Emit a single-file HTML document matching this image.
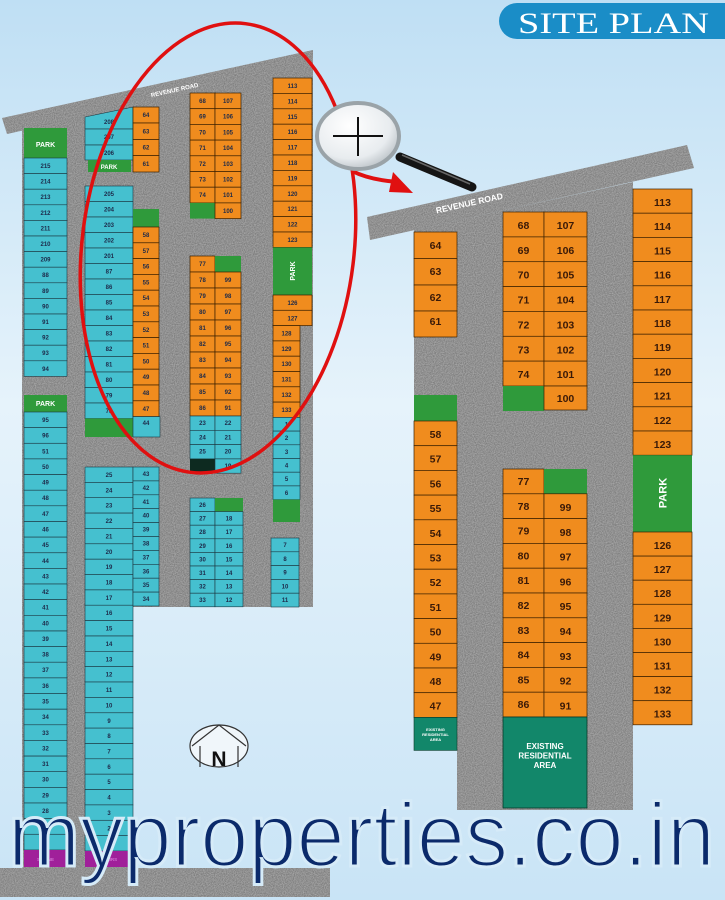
<!DOCTYPE html>
<html><head><meta charset="utf-8"><style>
html,body{margin:0;padding:0;width:725px;height:900px;overflow:hidden}
svg{display:block}
.c{fill:#45c0cf;stroke:#1c3640;stroke-width:.6}
.o{fill:#f08c1e;stroke:#3a2000;stroke-width:.7}
.g{fill:#2f9a3b}
.t{font-family:"Liberation Sans",sans-serif;font-weight:bold;font-size:6px;fill:#1d2a4a;text-anchor:middle}
.T{font-family:"Liberation Sans",sans-serif;font-weight:bold;font-size:10.5px;fill:#3a1a08;text-anchor:middle}
.w{font-family:"Liberation Sans",sans-serif;font-weight:bold;fill:#fff;text-anchor:middle}
</style></head><body>
<svg width="725" height="900" viewBox="0 0 725 900" xmlns="http://www.w3.org/2000/svg">
<defs>
<linearGradient id="bg" x1="0" y1="0" x2="0" y2="1">
<stop offset="0" stop-color="#bfdff4"/><stop offset=".45" stop-color="#e6f3fb"/><stop offset="1" stop-color="#c9e4f6"/>
</linearGradient>
<radialGradient id="lens" cx=".4" cy=".35" r=".7"><stop offset="0" stop-color="#fff"/><stop offset=".7" stop-color="#e8ecef"/><stop offset="1" stop-color="#b8bfc4"/></radialGradient>
<filter id="nz" x="0" y="0" width="100%" height="100%"><feTurbulence type="fractalNoise" baseFrequency=".9" numOctaves="2" result="n"/><feColorMatrix type="matrix" values="0 0 0 0 .5  0 0 0 0 .5  0 0 0 0 .5  1.2 0 0 0 -.35" in="n" result="m"/><feComposite in="m" in2="SourceGraphic" operator="in" result="c"/><feMerge><feMergeNode in="SourceGraphic"/><feMergeNode in="c"/></feMerge></filter>
</defs>
<rect width="725" height="900" fill="url(#bg)"/>

<!-- LEFT gray -->
<g fill="#7f7f7f" filter="url(#nz)">
<polygon points="22,128 313,60 313,607 133,607 133,870 22,870"/>
<polygon points="2,118 313,50 313,66 7,134"/>
<rect x="0" y="868" width="330" height="29"/>
</g>
<text x="175" y="92" transform="rotate(-12.5 175 92)" class="w" style="font-size:6px">REVENUE ROAD</text>

<!-- Col A -->
<rect x="24" y="128" width="43" height="30" class="g"/><text x="45.5" y="147" class="w" style="font-size:7px">PARK</text>
<g>
<rect x="24" y="158" width="43" height="15.6" class="c"/><text x="45.5" y="168" class="t">215</text>
<rect x="24" y="173.6" width="43" height="15.6" class="c"/><text x="45.5" y="183.6" class="t">214</text>
<rect x="24" y="189.2" width="43" height="15.6" class="c"/><text x="45.5" y="199.2" class="t">213</text>
<rect x="24" y="204.8" width="43" height="15.6" class="c"/><text x="45.5" y="214.8" class="t">212</text>
<rect x="24" y="220.4" width="43" height="15.6" class="c"/><text x="45.5" y="230.4" class="t">211</text>
<rect x="24" y="236" width="43" height="15.6" class="c"/><text x="45.5" y="246" class="t">210</text>
<rect x="24" y="251.6" width="43" height="15.6" class="c"/><text x="45.5" y="261.6" class="t">209</text>
<rect x="24" y="267.2" width="43" height="15.6" class="c"/><text x="45.5" y="277.2" class="t">88</text>
<rect x="24" y="282.8" width="43" height="15.6" class="c"/><text x="45.5" y="292.8" class="t">89</text>
<rect x="24" y="298.4" width="43" height="15.6" class="c"/><text x="45.5" y="308.4" class="t">90</text>
<rect x="24" y="314" width="43" height="15.6" class="c"/><text x="45.5" y="324" class="t">91</text>
<rect x="24" y="329.6" width="43" height="15.6" class="c"/><text x="45.5" y="339.6" class="t">92</text>
<rect x="24" y="345.2" width="43" height="15.6" class="c"/><text x="45.5" y="355.2" class="t">93</text>
<rect x="24" y="360.8" width="43" height="15.6" class="c"/><text x="45.5" y="370.8" class="t">94</text>
</g>
<rect x="24" y="395" width="43" height="17" class="g"/><text x="45.5" y="406" class="w" style="font-size:7px">PARK</text>
<g>
<rect x="24" y="412" width="43" height="15.64" class="c"/><text x="45.5" y="422" class="t">95</text>
<rect x="24" y="427.6" width="43" height="15.64" class="c"/><text x="45.5" y="437.6" class="t">96</text>
<rect x="24" y="443.3" width="43" height="15.64" class="c"/><text x="45.5" y="453.3" class="t">51</text>
<rect x="24" y="458.9" width="43" height="15.64" class="c"/><text x="45.5" y="468.9" class="t">50</text>
<rect x="24" y="474.6" width="43" height="15.64" class="c"/><text x="45.5" y="484.6" class="t">49</text>
<rect x="24" y="490.2" width="43" height="15.64" class="c"/><text x="45.5" y="500.2" class="t">48</text>
<rect x="24" y="505.8" width="43" height="15.64" class="c"/><text x="45.5" y="515.8" class="t">47</text>
<rect x="24" y="521.5" width="43" height="15.64" class="c"/><text x="45.5" y="531.5" class="t">46</text>
<rect x="24" y="537.1" width="43" height="15.64" class="c"/><text x="45.5" y="547.1" class="t">45</text>
<rect x="24" y="552.8" width="43" height="15.64" class="c"/><text x="45.5" y="562.8" class="t">44</text>
<rect x="24" y="568.4" width="43" height="15.64" class="c"/><text x="45.5" y="578.4" class="t">43</text>
<rect x="24" y="584" width="43" height="15.64" class="c"/><text x="45.5" y="594" class="t">42</text>
<rect x="24" y="599.7" width="43" height="15.64" class="c"/><text x="45.5" y="609.7" class="t">41</text>
<rect x="24" y="615.3" width="43" height="15.64" class="c"/><text x="45.5" y="625.3" class="t">40</text>
<rect x="24" y="631" width="43" height="15.64" class="c"/><text x="45.5" y="641" class="t">39</text>
<rect x="24" y="646.6" width="43" height="15.64" class="c"/><text x="45.5" y="656.6" class="t">38</text>
<rect x="24" y="662.2" width="43" height="15.64" class="c"/><text x="45.5" y="672.2" class="t">37</text>
<rect x="24" y="677.9" width="43" height="15.64" class="c"/><text x="45.5" y="687.9" class="t">36</text>
<rect x="24" y="693.5" width="43" height="15.64" class="c"/><text x="45.5" y="703.5" class="t">35</text>
<rect x="24" y="709.2" width="43" height="15.64" class="c"/><text x="45.5" y="719.2" class="t">34</text>
<rect x="24" y="724.8" width="43" height="15.64" class="c"/><text x="45.5" y="734.8" class="t">33</text>
<rect x="24" y="740.4" width="43" height="15.64" class="c"/><text x="45.5" y="750.4" class="t">32</text>
<rect x="24" y="756.1" width="43" height="15.64" class="c"/><text x="45.5" y="766.1" class="t">31</text>
<rect x="24" y="771.7" width="43" height="15.64" class="c"/><text x="45.5" y="781.7" class="t">30</text>
<rect x="24" y="787.4" width="43" height="15.64" class="c"/><text x="45.5" y="797.4" class="t">29</text>
<rect x="24" y="803" width="43" height="15.64" class="c"/><text x="45.5" y="813" class="t">28</text>
<rect x="24" y="818.6" width="43" height="15.64" class="c"/><text x="45.5" y="828.6" class="t">27</text>
<rect x="24" y="834.3" width="43" height="15.64" class="c"/><text x="45.5" y="844.3" class="t">26</text>
</g>
<rect x="24" y="850" width="43" height="17" fill="#a0209a"/><text x="45.5" y="861" class="t" style="font-size:4.5px;fill:#d070d0">SHRINE</text>

<!-- Col B top -->
<polygon points="85,117 133,107 133,129 85,129" class="c"/><text x="109" y="124" class="t">208</text>
<rect x="85" y="129" width="48" height="16" class="c"/><text x="109" y="139" class="t">207</text>
<rect x="85" y="145" width="48" height="15" class="c"/><text x="109" y="155" class="t">206</text>
<rect x="88" y="160" width="43" height="12" class="g"/><text x="109" y="169" class="w" style="font-size:6px">PARK</text>
<rect x="133" y="107" width="26" height="16" class="o"/><text x="146" y="117" class="t">64</text>
<rect x="133" y="123" width="26" height="16.5" class="o"/><text x="146" y="133.5" class="t">63</text>
<rect x="133" y="139.5" width="26" height="16" class="o"/><text x="146" y="149.5" class="t">62</text>
<rect x="133" y="155.5" width="26" height="16.5" class="o"/><text x="146" y="166" class="t">61</text>

<!-- Col B mid -->
<g>
<rect x="85" y="186" width="48" height="15.5" class="c"/><text x="109" y="196" class="t">205</text>
<rect x="85" y="201.5" width="48" height="15.5" class="c"/><text x="109" y="211.5" class="t">204</text>
<rect x="85" y="217" width="48" height="15.5" class="c"/><text x="109" y="227" class="t">203</text>
<rect x="85" y="232.5" width="48" height="15.5" class="c"/><text x="109" y="242.5" class="t">202</text>
<rect x="85" y="248" width="48" height="15.5" class="c"/><text x="109" y="258" class="t">201</text>
<rect x="85" y="263.5" width="48" height="15.5" class="c"/><text x="109" y="273.5" class="t">87</text>
<rect x="85" y="279" width="48" height="15.5" class="c"/><text x="109" y="289" class="t">86</text>
<rect x="85" y="294.5" width="48" height="15.5" class="c"/><text x="109" y="304.5" class="t">85</text>
<rect x="85" y="310" width="48" height="15.5" class="c"/><text x="109" y="320" class="t">84</text>
<rect x="85" y="325.5" width="48" height="15.5" class="c"/><text x="109" y="335.5" class="t">83</text>
<rect x="85" y="341" width="48" height="15.5" class="c"/><text x="109" y="351" class="t">82</text>
<rect x="85" y="356.5" width="48" height="15.5" class="c"/><text x="109" y="366.5" class="t">81</text>
<rect x="85" y="372" width="48" height="15.5" class="c"/><text x="109" y="382" class="t">80</text>
<rect x="85" y="387.5" width="48" height="15.5" class="c"/><text x="109" y="397.5" class="t">79</text>
<rect x="85" y="403" width="48" height="15.5" class="c"/><text x="109" y="413" class="t">78</text>
</g>
<rect x="85" y="418.5" width="48" height="18.5" class="g"/>
<rect x="133" y="209" width="26" height="18" class="g"/>
<g>
<rect x="133" y="227" width="26" height="15.8" class="o"/><text x="146" y="237" class="t">58</text>
<rect x="133" y="242.8" width="26" height="15.8" class="o"/><text x="146" y="252.8" class="t">57</text>
<rect x="133" y="258.6" width="26" height="15.8" class="o"/><text x="146" y="268.6" class="t">56</text>
<rect x="133" y="274.4" width="26" height="15.8" class="o"/><text x="146" y="284.4" class="t">55</text>
<rect x="133" y="290.2" width="26" height="15.8" class="o"/><text x="146" y="300.2" class="t">54</text>
<rect x="133" y="306" width="26" height="15.8" class="o"/><text x="146" y="316" class="t">53</text>
<rect x="133" y="321.8" width="26" height="15.8" class="o"/><text x="146" y="331.8" class="t">52</text>
<rect x="133" y="337.6" width="26" height="15.8" class="o"/><text x="146" y="347.6" class="t">51</text>
<rect x="133" y="353.4" width="26" height="15.8" class="o"/><text x="146" y="363.4" class="t">50</text>
<rect x="133" y="369.2" width="26" height="15.8" class="o"/><text x="146" y="379.2" class="t">49</text>
<rect x="133" y="385" width="26" height="15.8" class="o"/><text x="146" y="395" class="t">48</text>
<rect x="133" y="400.8" width="26" height="15.8" class="o"/><text x="146" y="410.8" class="t">47</text>
</g>
<rect x="133" y="416.6" width="27" height="20.4" class="c"/><text x="146" y="425" class="t">44</text>

<!-- Col B lower -->
<g>
<rect x="85" y="467" width="48" height="15.36" class="c"/><text x="109" y="477" class="t">25</text>
<rect x="85" y="482.4" width="48" height="15.36" class="c"/><text x="109" y="492.4" class="t">24</text>
<rect x="85" y="497.7" width="48" height="15.36" class="c"/><text x="109" y="507.7" class="t">23</text>
<rect x="85" y="513.1" width="48" height="15.36" class="c"/><text x="109" y="523.1" class="t">22</text>
<rect x="85" y="528.4" width="48" height="15.36" class="c"/><text x="109" y="538.4" class="t">21</text>
<rect x="85" y="543.8" width="48" height="15.36" class="c"/><text x="109" y="553.8" class="t">20</text>
<rect x="85" y="559.2" width="48" height="15.36" class="c"/><text x="109" y="569.2" class="t">19</text>
<rect x="85" y="574.5" width="48" height="15.36" class="c"/><text x="109" y="584.5" class="t">18</text>
<rect x="85" y="589.9" width="48" height="15.36" class="c"/><text x="109" y="599.9" class="t">17</text>
<rect x="85" y="605.2" width="48" height="15.36" class="c"/><text x="109" y="615.2" class="t">16</text>
<rect x="85" y="620.6" width="48" height="15.36" class="c"/><text x="109" y="630.6" class="t">15</text>
<rect x="85" y="636" width="48" height="15.36" class="c"/><text x="109" y="646" class="t">14</text>
<rect x="85" y="651.3" width="48" height="15.36" class="c"/><text x="109" y="661.3" class="t">13</text>
<rect x="85" y="666.7" width="48" height="15.36" class="c"/><text x="109" y="676.7" class="t">12</text>
<rect x="85" y="682" width="48" height="15.36" class="c"/><text x="109" y="692" class="t">11</text>
<rect x="85" y="697.4" width="48" height="15.36" class="c"/><text x="109" y="707.4" class="t">10</text>
<rect x="85" y="712.8" width="48" height="15.36" class="c"/><text x="109" y="722.8" class="t">9</text>
<rect x="85" y="728.1" width="48" height="15.36" class="c"/><text x="109" y="738.1" class="t">8</text>
<rect x="85" y="743.5" width="48" height="15.36" class="c"/><text x="109" y="753.5" class="t">7</text>
<rect x="85" y="758.8" width="48" height="15.36" class="c"/><text x="109" y="768.8" class="t">6</text>
<rect x="85" y="774.2" width="48" height="15.36" class="c"/><text x="109" y="784.2" class="t">5</text>
<rect x="85" y="789.6" width="48" height="15.36" class="c"/><text x="109" y="799.6" class="t">4</text>
<rect x="85" y="804.9" width="48" height="15.36" class="c"/><text x="109" y="814.9" class="t">3</text>
<rect x="85" y="820.3" width="48" height="15.36" class="c"/><text x="109" y="830.3" class="t">2</text>
<rect x="85" y="835.6" width="48" height="15.36" class="c"/><text x="109" y="845.6" class="t">1</text>
</g>
<rect x="85" y="851" width="48" height="16" fill="#a0209a"/><text x="109" y="861" class="t" style="font-size:4.5px;fill:#d070d0">STAIRS</text>
<g>
<rect x="133" y="467" width="26" height="13.9" class="c"/><text x="146" y="476" class="t">43</text>
<rect x="133" y="480.9" width="26" height="13.9" class="c"/><text x="146" y="489.9" class="t">42</text>
<rect x="133" y="494.8" width="26" height="13.9" class="c"/><text x="146" y="503.8" class="t">41</text>
<rect x="133" y="508.7" width="26" height="13.9" class="c"/><text x="146" y="517.7" class="t">40</text>
<rect x="133" y="522.6" width="26" height="13.9" class="c"/><text x="146" y="531.6" class="t">39</text>
<rect x="133" y="536.5" width="26" height="13.9" class="c"/><text x="146" y="545.5" class="t">38</text>
<rect x="133" y="550.4" width="26" height="13.9" class="c"/><text x="146" y="559.4" class="t">37</text>
<rect x="133" y="564.3" width="26" height="13.9" class="c"/><text x="146" y="573.3" class="t">36</text>
<rect x="133" y="578.2" width="26" height="13.9" class="c"/><text x="146" y="587.2" class="t">35</text>
<rect x="133" y="592.1" width="26" height="13.9" class="c"/><text x="146" y="601.1" class="t">34</text>
</g>

<!-- Middle D/E top -->
<g>
<rect x="190" y="93" width="25" height="15.7" class="o"/><text x="202.5" y="103" class="t">68</text>
<rect x="215" y="93" width="26" height="15.7" class="o"/><text x="228" y="103" class="t">107</text>
<rect x="190" y="108.7" width="25" height="15.7" class="o"/><text x="202.5" y="118.7" class="t">69</text>
<rect x="215" y="108.7" width="26" height="15.7" class="o"/><text x="228" y="118.7" class="t">106</text>
<rect x="190" y="124.4" width="25" height="15.7" class="o"/><text x="202.5" y="134.4" class="t">70</text>
<rect x="215" y="124.4" width="26" height="15.7" class="o"/><text x="228" y="134.4" class="t">105</text>
<rect x="190" y="140.1" width="25" height="15.7" class="o"/><text x="202.5" y="150.1" class="t">71</text>
<rect x="215" y="140.1" width="26" height="15.7" class="o"/><text x="228" y="150.1" class="t">104</text>
<rect x="190" y="155.8" width="25" height="15.7" class="o"/><text x="202.5" y="165.8" class="t">72</text>
<rect x="215" y="155.8" width="26" height="15.7" class="o"/><text x="228" y="165.8" class="t">103</text>
<rect x="190" y="171.5" width="25" height="15.7" class="o"/><text x="202.5" y="181.5" class="t">73</text>
<rect x="215" y="171.5" width="26" height="15.7" class="o"/><text x="228" y="181.5" class="t">102</text>
<rect x="190" y="187.2" width="25" height="15.7" class="o"/><text x="202.5" y="197.2" class="t">74</text>
<rect x="215" y="187.2" width="26" height="15.7" class="o"/><text x="228" y="197.2" class="t">101</text>
<rect x="190" y="202.9" width="25" height="15.7" class="g"/>
<rect x="215" y="202.9" width="26" height="15.7" class="o"/><text x="228" y="212.9" class="t">100</text>
</g>
<!-- Middle lower -->
<g>
<rect x="190" y="256" width="25" height="16" class="o"/><text x="202.5" y="266" class="t">77</text>
<rect x="215" y="256" width="26" height="16" class="g"/>
<rect x="190" y="272" width="25" height="16" class="o"/><text x="202.5" y="282" class="t">78</text>
<rect x="215" y="272" width="26" height="16" class="o"/><text x="228" y="282" class="t">99</text>
<rect x="190" y="288" width="25" height="16" class="o"/><text x="202.5" y="298" class="t">79</text>
<rect x="215" y="288" width="26" height="16" class="o"/><text x="228" y="298" class="t">98</text>
<rect x="190" y="304" width="25" height="16" class="o"/><text x="202.5" y="314" class="t">80</text>
<rect x="215" y="304" width="26" height="16" class="o"/><text x="228" y="314" class="t">97</text>
<rect x="190" y="320" width="25" height="16" class="o"/><text x="202.5" y="330" class="t">81</text>
<rect x="215" y="320" width="26" height="16" class="o"/><text x="228" y="330" class="t">96</text>
<rect x="190" y="336" width="25" height="16" class="o"/><text x="202.5" y="346" class="t">82</text>
<rect x="215" y="336" width="26" height="16" class="o"/><text x="228" y="346" class="t">95</text>
<rect x="190" y="352" width="25" height="16" class="o"/><text x="202.5" y="362" class="t">83</text>
<rect x="215" y="352" width="26" height="16" class="o"/><text x="228" y="362" class="t">94</text>
<rect x="190" y="368" width="25" height="16" class="o"/><text x="202.5" y="378" class="t">84</text>
<rect x="215" y="368" width="26" height="16" class="o"/><text x="228" y="378" class="t">93</text>
<rect x="190" y="384" width="25" height="16" class="o"/><text x="202.5" y="394" class="t">85</text>
<rect x="215" y="384" width="26" height="16" class="o"/><text x="228" y="394" class="t">92</text>
<rect x="190" y="400" width="25" height="16" class="o"/><text x="202.5" y="410" class="t">86</text>
<rect x="215" y="400" width="26" height="16" class="o"/><text x="228" y="410" class="t">91</text>
<rect x="190" y="416" width="25" height="14.3" class="c"/><text x="202.5" y="425" class="t">23</text>
<rect x="215" y="416" width="26" height="14.3" class="c"/><text x="228" y="425" class="t">22</text>
<rect x="190" y="430.3" width="25" height="14.3" class="c"/><text x="202.5" y="439.3" class="t">24</text>
<rect x="215" y="430.3" width="26" height="14.3" class="c"/><text x="228" y="439.3" class="t">21</text>
<rect x="190" y="444.6" width="25" height="14.3" class="c"/><text x="202.5" y="453.6" class="t">25</text>
<rect x="215" y="444.6" width="26" height="14.3" class="c"/><text x="228" y="453.6" class="t">20</text>
<rect x="190" y="458.9" width="25" height="14.3" fill="#0d2a20"/>
<rect x="215" y="458.9" width="26" height="14.3" class="c"/><text x="228" y="467.9" class="t">19</text>
</g>
<g>
<rect x="190" y="498" width="25" height="13.6" class="c"/><text x="202.5" y="507" class="t">26</text>
<rect x="215" y="498" width="28" height="13.6" class="g"/>
<rect x="190" y="511.6" width="25" height="13.6" class="c"/><text x="202.5" y="520.6" class="t">27</text>
<rect x="215" y="511.6" width="28" height="13.6" class="c"/><text x="229" y="520.6" class="t">18</text>
<rect x="190" y="525.2" width="25" height="13.6" class="c"/><text x="202.5" y="534.2" class="t">28</text>
<rect x="215" y="525.2" width="28" height="13.6" class="c"/><text x="229" y="534.2" class="t">17</text>
<rect x="190" y="538.8" width="25" height="13.6" class="c"/><text x="202.5" y="547.8" class="t">29</text>
<rect x="215" y="538.8" width="28" height="13.6" class="c"/><text x="229" y="547.8" class="t">16</text>
<rect x="190" y="552.4" width="25" height="13.6" class="c"/><text x="202.5" y="561.4" class="t">30</text>
<rect x="215" y="552.4" width="28" height="13.6" class="c"/><text x="229" y="561.4" class="t">15</text>
<rect x="190" y="566" width="25" height="13.6" class="c"/><text x="202.5" y="575" class="t">31</text>
<rect x="215" y="566" width="28" height="13.6" class="c"/><text x="229" y="575" class="t">14</text>
<rect x="190" y="579.6" width="25" height="13.6" class="c"/><text x="202.5" y="588.6" class="t">32</text>
<rect x="215" y="579.6" width="28" height="13.6" class="c"/><text x="229" y="588.6" class="t">13</text>
<rect x="190" y="593.2" width="25" height="13.6" class="c"/><text x="202.5" y="602.2" class="t">33</text>
<rect x="215" y="593.2" width="28" height="13.6" class="c"/><text x="229" y="602.2" class="t">12</text>
</g>

<!-- Col F -->
<g>
<rect x="273" y="78" width="39" height="15.4" class="o"/><text x="292.5" y="88" class="t">113</text>
<rect x="273" y="93.4" width="39" height="15.4" class="o"/><text x="292.5" y="103.4" class="t">114</text>
<rect x="273" y="108.8" width="39" height="15.4" class="o"/><text x="292.5" y="118.8" class="t">115</text>
<rect x="273" y="124.2" width="39" height="15.4" class="o"/><text x="292.5" y="134.2" class="t">116</text>
<rect x="273" y="139.6" width="39" height="15.4" class="o"/><text x="292.5" y="149.6" class="t">117</text>
<rect x="273" y="155" width="39" height="15.4" class="o"/><text x="292.5" y="165" class="t">118</text>
<rect x="273" y="170.4" width="39" height="15.4" class="o"/><text x="292.5" y="180.4" class="t">119</text>
<rect x="273" y="185.8" width="39" height="15.4" class="o"/><text x="292.5" y="195.8" class="t">120</text>
<rect x="273" y="201.2" width="39" height="15.4" class="o"/><text x="292.5" y="211.2" class="t">121</text>
<rect x="273" y="216.6" width="39" height="15.4" class="o"/><text x="292.5" y="226.6" class="t">122</text>
<rect x="273" y="232" width="39" height="15.4" class="o"/><text x="292.5" y="242" class="t">123</text>
</g>
<rect x="273" y="247.4" width="39" height="47.6" class="g"/><text x="292.5" y="271" transform="rotate(-90 292.5 271)" class="w" style="font-size:7px" dy="2.5">PARK</text>
<g>
<rect x="273" y="295" width="39" height="15.3" class="o"/><text x="292.5" y="305" class="t">126</text>
<rect x="273" y="310.3" width="39" height="15.3" class="o"/><text x="292.5" y="320.3" class="t">127</text>
<rect x="273" y="325.6" width="27" height="15.3" class="o"/><text x="286.5" y="335.6" class="t">128</text>
<rect x="273" y="340.9" width="27" height="15.3" class="o"/><text x="286.5" y="350.9" class="t">129</text>
<rect x="273" y="356.2" width="27" height="15.3" class="o"/><text x="286.5" y="366.2" class="t">130</text>
<rect x="273" y="371.5" width="27" height="15.3" class="o"/><text x="286.5" y="381.5" class="t">131</text>
<rect x="273" y="386.8" width="27" height="15.3" class="o"/><text x="286.5" y="396.8" class="t">132</text>
<rect x="273" y="402.1" width="27" height="15.3" class="o"/><text x="286.5" y="412.1" class="t">133</text>
<rect x="273" y="417.4" width="27" height="13.7" class="c"/><text x="286.5" y="426.4" class="t">1</text>
<rect x="273" y="431.1" width="27" height="13.7" class="c"/><text x="286.5" y="440.1" class="t">2</text>
<rect x="273" y="444.8" width="27" height="13.7" class="c"/><text x="286.5" y="453.8" class="t">3</text>
<rect x="273" y="458.5" width="27" height="13.7" class="c"/><text x="286.5" y="467.5" class="t">4</text>
<rect x="273" y="472.2" width="27" height="13.7" class="c"/><text x="286.5" y="481.2" class="t">5</text>
<rect x="273" y="485.9" width="27" height="13.7" class="c"/><text x="286.5" y="494.9" class="t">6</text>
</g>
<rect x="273" y="499.6" width="27" height="22.4" class="g"/>
<g>
<rect x="271" y="538" width="28" height="13.8" class="c"/><text x="285" y="547" class="t">7</text>
<rect x="271" y="551.8" width="28" height="13.8" class="c"/><text x="285" y="560.8" class="t">8</text>
<rect x="271" y="565.6" width="28" height="13.8" class="c"/><text x="285" y="574.6" class="t">9</text>
<rect x="271" y="579.4" width="28" height="13.8" class="c"/><text x="285" y="588.4" class="t">10</text>
<rect x="271" y="593.2" width="28" height="13.8" class="c"/><text x="285" y="602.2" class="t">11</text>
</g>

<!-- RIGHT map -->
<g fill="#808080" filter="url(#nz)">
<polygon points="414,230 633,182 633,810 457,810 457,750 414,750"/>
<polygon points="367,217 687,145 694,168 370,240"/>
</g>
<text x="470" y="206" transform="rotate(-12.6 470 206)" class="w" style="font-size:8.5px">REVENUE ROAD</text>

<g>
<rect x="414" y="232" width="43" height="26.5" class="o"/><text x="435.5" y="249" class="T">64</text>
<rect x="414" y="258.5" width="43" height="26.5" class="o"/><text x="435.5" y="275" class="T">63</text>
<rect x="414" y="285" width="43" height="26" class="o"/><text x="435.5" y="301" class="T">62</text>
<rect x="414" y="311" width="43" height="26" class="o"/><text x="435.5" y="325" class="T">61</text>
<rect x="414" y="395" width="43" height="26" class="g"/>
<rect x="414" y="421" width="43" height="24.7" class="o"/><text x="435.5" y="438" class="T">58</text>
<rect x="414" y="445.7" width="43" height="24.7" class="o"/><text x="435.5" y="462.7" class="T">57</text>
<rect x="414" y="470.4" width="43" height="24.7" class="o"/><text x="435.5" y="487.4" class="T">56</text>
<rect x="414" y="495.1" width="43" height="24.7" class="o"/><text x="435.5" y="512.1" class="T">55</text>
<rect x="414" y="519.8" width="43" height="24.7" class="o"/><text x="435.5" y="536.8" class="T">54</text>
<rect x="414" y="544.5" width="43" height="24.7" class="o"/><text x="435.5" y="561.5" class="T">53</text>
<rect x="414" y="569.2" width="43" height="24.7" class="o"/><text x="435.5" y="586.2" class="T">52</text>
<rect x="414" y="593.9" width="43" height="24.7" class="o"/><text x="435.5" y="610.9" class="T">51</text>
<rect x="414" y="618.6" width="43" height="24.7" class="o"/><text x="435.5" y="635.6" class="T">50</text>
<rect x="414" y="643.3" width="43" height="24.7" class="o"/><text x="435.5" y="660.3" class="T">49</text>
<rect x="414" y="668" width="43" height="24.7" class="o"/><text x="435.5" y="685" class="T">48</text>
<rect x="414" y="692.7" width="43" height="24.7" class="o"/><text x="435.5" y="709.7" class="T">47</text>
</g>
<rect x="414" y="717.4" width="43" height="33" fill="#12876a" stroke="#0a3a2a" stroke-width=".6"/>
<text x="435.5" y="731" class="w" style="font-size:4px">EXISTING</text><text x="435.5" y="736" class="w" style="font-size:4px">RESIDENTIAL</text><text x="435.5" y="741" class="w" style="font-size:4px">AREA</text>

<g>
<rect x="503" y="212" width="41" height="24.9" class="o"/><text x="523.5" y="229" class="T">68</text>
<rect x="544" y="212" width="43" height="24.9" class="o"/><text x="565.5" y="229" class="T">107</text>
<rect x="503" y="236.9" width="41" height="24.9" class="o"/><text x="523.5" y="253.9" class="T">69</text>
<rect x="544" y="236.9" width="43" height="24.9" class="o"/><text x="565.5" y="253.9" class="T">106</text>
<rect x="503" y="261.7" width="41" height="24.9" class="o"/><text x="523.5" y="278.7" class="T">70</text>
<rect x="544" y="261.7" width="43" height="24.9" class="o"/><text x="565.5" y="278.7" class="T">105</text>
<rect x="503" y="286.6" width="41" height="24.9" class="o"/><text x="523.5" y="303.6" class="T">71</text>
<rect x="544" y="286.6" width="43" height="24.9" class="o"/><text x="565.5" y="303.6" class="T">104</text>
<rect x="503" y="311.4" width="41" height="24.9" class="o"/><text x="523.5" y="328.4" class="T">72</text>
<rect x="544" y="311.4" width="43" height="24.9" class="o"/><text x="565.5" y="328.4" class="T">103</text>
<rect x="503" y="336.3" width="41" height="24.9" class="o"/><text x="523.5" y="353.3" class="T">73</text>
<rect x="544" y="336.3" width="43" height="24.9" class="o"/><text x="565.5" y="353.3" class="T">102</text>
<rect x="503" y="361.1" width="41" height="24.9" class="o"/><text x="523.5" y="378.1" class="T">74</text>
<rect x="544" y="361.1" width="43" height="24.9" class="o"/><text x="565.5" y="378.1" class="T">101</text>
<rect x="503" y="386" width="41" height="25" class="g"/>
<rect x="544" y="386" width="43" height="24" class="o"/><text x="565.5" y="402" class="T">100</text>
</g>
<g>
<rect x="503" y="469" width="41" height="24.8" class="o"/><text x="523.5" y="485" class="T">77</text>
<rect x="544" y="469" width="43" height="24.8" class="g"/>
<rect x="503" y="493.8" width="41" height="24.8" class="o"/><text x="523.5" y="509.8" class="T">78</text>
<rect x="544" y="493.8" width="43" height="24.8" class="o"/><text x="565.5" y="511" class="T">99</text>
<rect x="503" y="518.6" width="41" height="24.8" class="o"/><text x="523.5" y="534.6" class="T">79</text>
<rect x="544" y="518.6" width="43" height="24.8" class="o"/><text x="565.5" y="535.8" class="T">98</text>
<rect x="503" y="543.4" width="41" height="24.8" class="o"/><text x="523.5" y="559.4" class="T">80</text>
<rect x="544" y="543.4" width="43" height="24.8" class="o"/><text x="565.5" y="560.6" class="T">97</text>
<rect x="503" y="568.2" width="41" height="24.8" class="o"/><text x="523.5" y="584.2" class="T">81</text>
<rect x="544" y="568.2" width="43" height="24.8" class="o"/><text x="565.5" y="585.4" class="T">96</text>
<rect x="503" y="593" width="41" height="24.8" class="o"/><text x="523.5" y="609" class="T">82</text>
<rect x="544" y="593" width="43" height="24.8" class="o"/><text x="565.5" y="610.2" class="T">95</text>
<rect x="503" y="617.8" width="41" height="24.8" class="o"/><text x="523.5" y="633.8" class="T">83</text>
<rect x="544" y="617.8" width="43" height="24.8" class="o"/><text x="565.5" y="635" class="T">94</text>
<rect x="503" y="642.6" width="41" height="24.8" class="o"/><text x="523.5" y="658.6" class="T">84</text>
<rect x="544" y="642.6" width="43" height="24.8" class="o"/><text x="565.5" y="659.8" class="T">93</text>
<rect x="503" y="667.4" width="41" height="24.8" class="o"/><text x="523.5" y="683.4" class="T">85</text>
<rect x="544" y="667.4" width="43" height="24.8" class="o"/><text x="565.5" y="684.6" class="T">92</text>
<rect x="503" y="692.2" width="41" height="24.8" class="o"/><text x="523.5" y="708.2" class="T">86</text>
<rect x="544" y="692.2" width="43" height="24.8" class="o"/><text x="565.5" y="709.4" class="T">91</text>
</g>
<rect x="503" y="717" width="84" height="91" fill="#12876a" stroke="#0a3a2a" stroke-width=".8"/>
<text x="545" y="749" class="w" style="font-size:8px">EXISTING</text><text x="545" y="758.5" class="w" style="font-size:8px">RESIDENTIAL</text><text x="545" y="768" class="w" style="font-size:8px">AREA</text>

<g>
<rect x="633" y="189" width="59" height="24.2" class="o"/><text x="662.5" y="206" class="T">113</text>
<rect x="633" y="213.2" width="59" height="24.2" class="o"/><text x="662.5" y="230.2" class="T">114</text>
<rect x="633" y="237.4" width="59" height="24.2" class="o"/><text x="662.5" y="254.4" class="T">115</text>
<rect x="633" y="261.6" width="59" height="24.2" class="o"/><text x="662.5" y="278.6" class="T">116</text>
<rect x="633" y="285.8" width="59" height="24.2" class="o"/><text x="662.5" y="302.8" class="T">117</text>
<rect x="633" y="310" width="59" height="24.2" class="o"/><text x="662.5" y="327" class="T">118</text>
<rect x="633" y="334.2" width="59" height="24.2" class="o"/><text x="662.5" y="351.2" class="T">119</text>
<rect x="633" y="358.4" width="59" height="24.2" class="o"/><text x="662.5" y="375.4" class="T">120</text>
<rect x="633" y="382.6" width="59" height="24.2" class="o"/><text x="662.5" y="399.6" class="T">121</text>
<rect x="633" y="406.8" width="59" height="24.2" class="o"/><text x="662.5" y="423.8" class="T">122</text>
<rect x="633" y="431" width="59" height="24.2" class="o"/><text x="662.5" y="448" class="T">123</text>
</g>
<rect x="633" y="455.2" width="59" height="76.8" class="g"/><text x="662.5" y="493" transform="rotate(-90 662.5 493)" class="w" style="font-size:11px" dy="4">PARK</text>
<g>
<rect x="633" y="532" width="59" height="24.1" class="o"/><text x="662.5" y="549" class="T">126</text>
<rect x="633" y="556.1" width="59" height="24.1" class="o"/><text x="662.5" y="573.1" class="T">127</text>
<rect x="633" y="580.2" width="59" height="24.1" class="o"/><text x="662.5" y="597.2" class="T">128</text>
<rect x="633" y="604.3" width="59" height="24.1" class="o"/><text x="662.5" y="621.3" class="T">129</text>
<rect x="633" y="628.4" width="59" height="24.1" class="o"/><text x="662.5" y="645.4" class="T">130</text>
<rect x="633" y="652.5" width="59" height="24.1" class="o"/><text x="662.5" y="669.5" class="T">131</text>
<rect x="633" y="676.6" width="59" height="24.1" class="o"/><text x="662.5" y="693.6" class="T">132</text>
<rect x="633" y="700.7" width="59" height="24.1" class="o"/><text x="662.5" y="717.7" class="T">133</text>
</g>

<!-- red ellipse -->
<ellipse cx="218" cy="248" rx="136" ry="226" transform="rotate(7 218 248)" fill="none" stroke="#e01010" stroke-width="3.5"/>

<!-- magnifier -->
<path d="M352,171 Q370,180 398,182" fill="none" stroke="#e01010" stroke-width="4"/>
<polygon points="393,172 413,193 389,192" fill="#e01010"/>
<line x1="400" y1="157" x2="472" y2="187" stroke="#151515" stroke-width="9" stroke-linecap="round"/>
<line x1="402" y1="155" x2="470" y2="184" stroke="#666" stroke-width="1.5"/>
<ellipse cx="358" cy="136" rx="41" ry="33" fill="url(#lens)" stroke="#9aa3a8" stroke-width="4"/>
<line x1="333" y1="136" x2="383" y2="136" stroke="#111" stroke-width="2"/>
<line x1="358" y1="117" x2="358" y2="156" stroke="#111" stroke-width="2"/>

<!-- site plan banner -->
<rect x="499" y="3" width="250" height="36" rx="18" fill="#1a8dc7"/>
<text x="518" y="33" textLength="191" lengthAdjust="spacingAndGlyphs" style="font-family:'Liberation Serif',serif;font-size:30px;fill:#fff">SITE PLAN</text>

<!-- compass -->
<ellipse cx="219" cy="746" rx="29" ry="21" fill="#f0f6fa" stroke="#333" stroke-width="1.2"/>
<path d="M192,746 L219,725 L246,746 M200,746 V767 M238,746 V767" fill="none" stroke="#333" stroke-width="1.2"/>
<text x="219" y="766" style="font-family:'Liberation Sans',sans-serif;font-weight:bold;font-size:21px;fill:#111;text-anchor:middle">N</text>

<!-- watermark -->
<text x="8" y="866" textLength="707" lengthAdjust="spacingAndGlyphs" style="font-family:'Liberation Sans',sans-serif;font-size:90px;fill:#0b2a6b;stroke:#d6ebf8;stroke-width:3;paint-order:fill">myproperties.co.in</text>
</svg>
</body></html>
